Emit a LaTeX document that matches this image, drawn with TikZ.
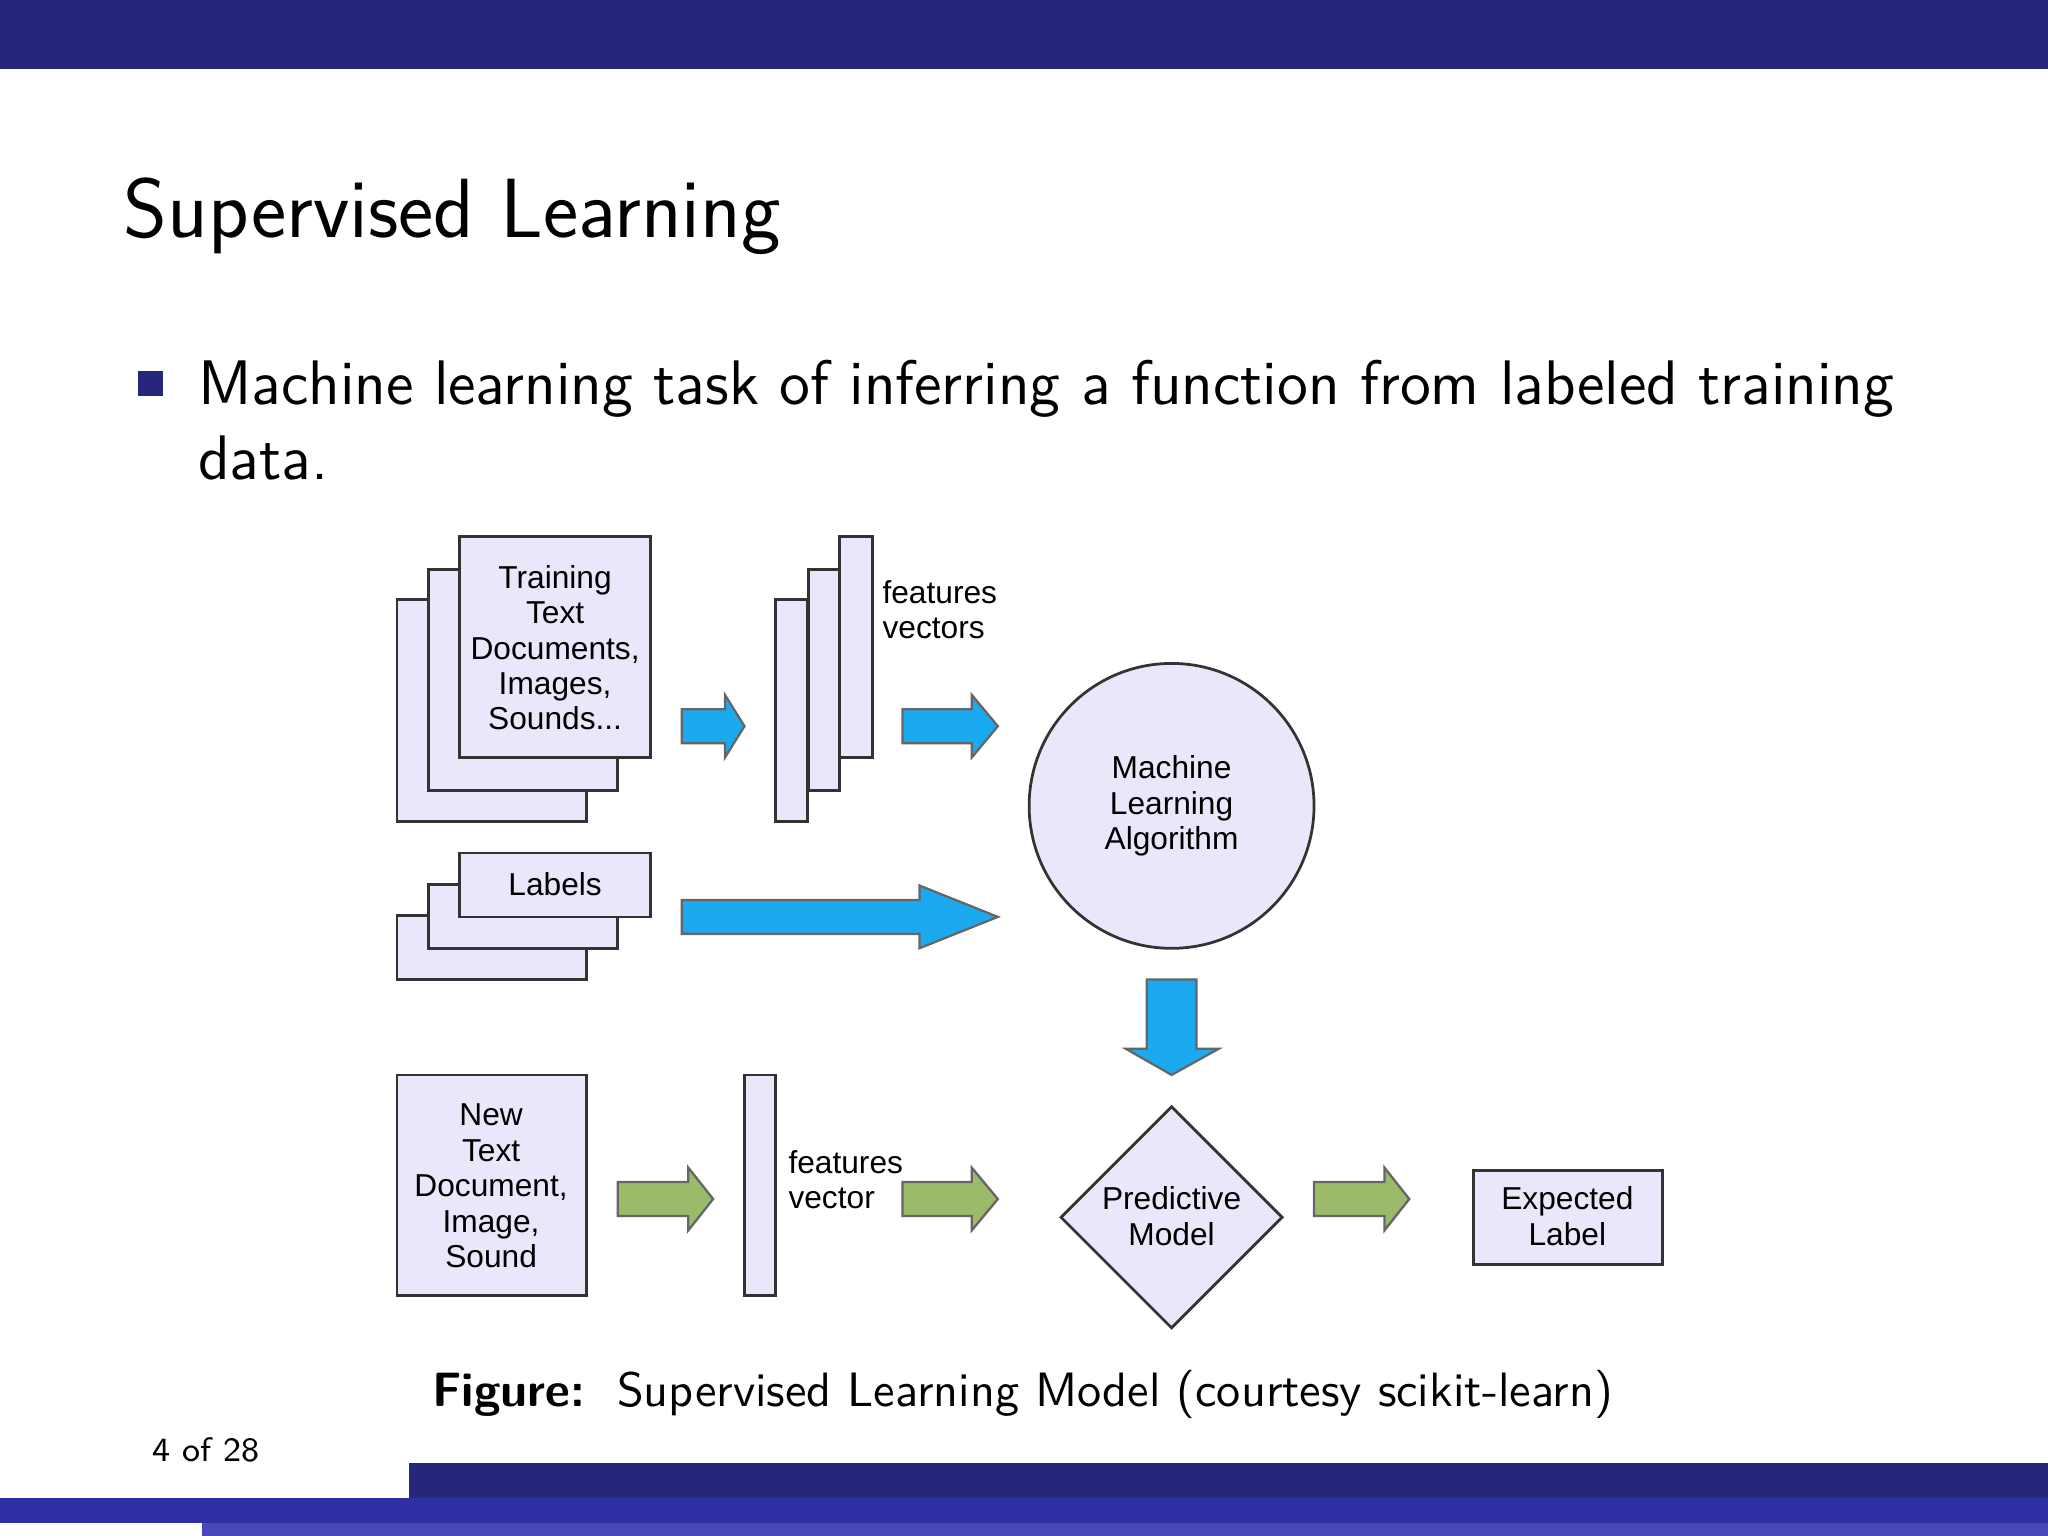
\documentclass[tikz,border=0pt]{standalone}
\usepackage{fontspec}
\newfontfamily\arialf{Liberation Sans}
\usetikzlibrary{shapes.geometric}
\definecolor{navy}{RGB}{38,38,122}
\definecolor{bandblue}{RGB}{46,47,163}
\definecolor{lightband}{RGB}{72,72,187}
\definecolor{lav}{RGB}{232,232,250}
\definecolor{arrblue}{RGB}{27,170,240}
\definecolor{arrgreen}{RGB}{155,187,107}
\newcommand{\harrow}[5]{% x1,x2,y,fill, headstart
  \draw[#4,draw=black!60,line width=0.5pt] (#1,#3-13) -- (#5,#3-13) -- (#5,#3-24) -- (#2,#3) -- (#5,#3+24) -- (#5,#3+13) -- (#1,#3+13) -- cycle;}
\begin{document}
\begin{tikzpicture}[x=0.01cm,y=-0.01cm,
  doc/.style={draw=black!80,fill=lav,line width=0.6pt},
  lbl/.style={font=\arialf\fontsize{6.9}{7.7}\selectfont,align=center,inner sep=0pt},
  blue arrow/.style={fill=arrblue},
  green arrow/.style={fill=arrgreen}]
\useasboundingbox (0,0) rectangle (1568,1176);
% bars
\fill[navy] (0,0) rectangle (1568,53);
\fill[navy] (313,1120) rectangle (1568,1148);
\fill[bandblue] (0,1147) rectangle (1568,1166);
\fill[lightband] (155,1166) rectangle (1568,1176);
\node[anchor=base west,inner sep=0pt,font=\sffamily\fontsize{18.3}{22}\selectfont] (title) at (94,182) {Supervised Learning};
\fill[navy] (106,284) rectangle (125,303);
\node[anchor=base west,inner sep=0pt,font=\sffamily\fontsize{13.7}{17}\selectfont,align=left] (bullet) at (151,310) {Machine learning task of inferring a function from labeled training};
\node[anchor=base west,inner sep=0pt,font=\sffamily\fontsize{13.7}{17}\selectfont] (bullet2) at (151,367) {data.};
% training docs
\draw[doc] (304,459) rectangle (449,629);
\draw[doc] (328,436) rectangle (473,605);
\draw[doc] (352,411) rectangle (498,580);
\node[lbl] (train) at (425,496) {Training\\Text\\Documents,\\Images,\\Sounds...};
% feature vectors
\draw[doc] (594,459) rectangle (618,629);
\draw[doc] (619,436) rectangle (643,605);
\draw[doc] (643,411) rectangle (668,580);
\node[lbl,align=left,anchor=west] (fv) at (675,467) {features\\vectors};
\harrow{522}{570}{556}{blue arrow}{555}
\harrow{691}{764}{556}{blue arrow}{744}
% labels
\draw[doc] (304,701) rectangle (449,750);
\draw[doc] (328,677) rectangle (473,726);
\draw[doc] (352,653) rectangle (498,702);
\node[lbl] (labels) at (425,677) {Labels};
\harrow{522}{764}{702}{blue arrow}{704}
% ML algorithm
\node[circle,draw=black!80,fill=lav,line width=0.6pt,minimum size=2.18cm,inner sep=0pt] (mla) at (897,617) {};
\node[lbl] (mlat) at (897,617) {Machine\\Learning\\Algorithm};
% down arrow
\draw[blue arrow,draw=black!60,line width=0.5pt] (878,750) -- (916,750) -- (916,803) -- (933,803) -- (897,823) -- (862,803) -- (878,803) -- cycle;
% bottom row
\draw[doc] (304,823) rectangle (449,992);
\node[lbl] (newdoc) at (376,908) {New\\Text\\Document,\\Image,\\Sound};
\harrow{473}{546}{918}{green arrow}{527}
\draw[doc] (570,823) rectangle (594,992);
\node[lbl,align=left,anchor=west] (fv2) at (603,903) {features\\vector};
\harrow{691}{764}{918}{green arrow}{744}
\node[diamond,draw=black!80,fill=lav,line width=0.6pt,minimum width=1.7cm,minimum height=1.7cm,inner sep=0pt] (pm) at (897,932) {};
\node[lbl] (pmt) at (897,931) {Predictive\\Model};
\harrow{1006}{1079}{918}{green arrow}{1060}
\draw[doc] (1128,896) rectangle (1273,968);
\node[lbl] (exp) at (1200,931) {Expected\\Label};
% caption
\node[anchor=base,inner sep=0pt,font=\sffamily\fontsize{10.5}{13}\selectfont] (cap) at (783,1077) {\textbf{Figure:}\ \ Supervised Learning Model (courtesy scikit-learn)};
\node[anchor=base west,inner sep=0pt,font=\sffamily\fontsize{7.4}{9}\selectfont] (page) at (116,1119) {4 of 28};
\end{tikzpicture}
\end{document}
